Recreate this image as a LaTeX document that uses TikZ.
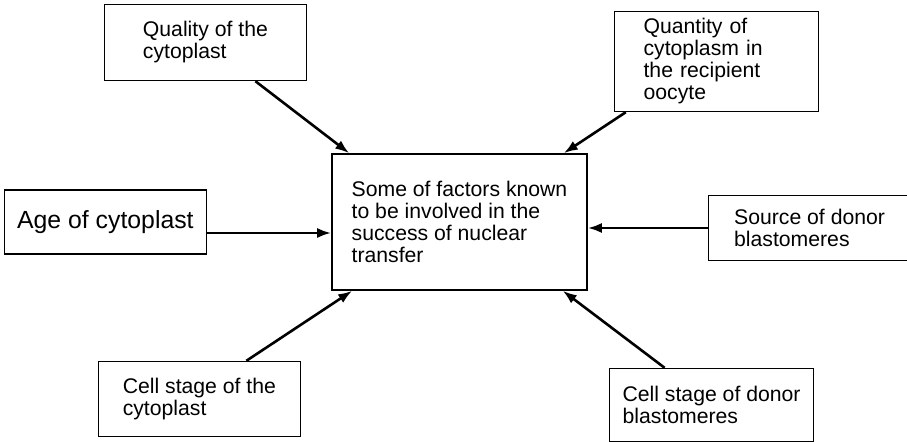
\documentclass[tikz,border=0pt]{standalone}
\usepackage{fontspec}
\setmainfont{Liberation Sans}
\usetikzlibrary{arrows.meta, positioning}
\tikzset{
	factor/.style={rectangle, draw, line width=0.8pt, minimum width=101pt,
		align=left, inner sep=2pt, font=\fontsize{10.6}{11}\selectfont},
	hub/.style={factor, minimum width=127.5pt, minimum height=68pt},
	arr/.style={-{Latex[length=7pt, width=5pt]}, line width=1.3pt},
}

\begin{document}
\begin{tikzpicture}
	\path[use as bounding box] (-229.75pt,111pt) rectangle (223.75pt,-110pt);
	
	\node[hub] (factors) at (0,0) {Some of factors known\\to be involved in the\\success of nuclear\\transfer};
	
	\node[factor, minimum height=38pt, above left=36pt and 12pt of factors] (quality) {Quality of the\\cytoplast};
	\node[factor, minimum width=102pt, minimum height=50pt, text width=73pt, above right=20.5pt and 13pt of factors] (quantity) {Quantity of\\cytoplasm in\\the recipient\\oocyte};
	\node[factor, minimum height=32pt, font=\fontsize{12.4}{13}\selectfont, left=62pt of factors] (age) {Age of cytoplast};
	\node[factor, minimum height=32.5pt, right=60pt of factors, yshift=-3pt] (source) {Source of donor\\blastomeres};
	\node[factor, minimum height=37.5pt, below left=35pt and 15pt of factors] (cellcyto) {Cell stage of the\\cytoplast};
	\node[factor, minimum width=102pt, minimum height=36.5pt, below right=38.5pt and 10.5pt of factors] (celldonor) {Cell stage of donor\\blastomeres};
	
	\draw[arr] ([xshift=25pt]quality.south) -- ([xshift=9pt]factors.north west);
	\draw[arr] ([xshift=6pt]quantity.south west) -- ([xshift=-12pt]factors.north east);
	\draw[arr] ([yshift=-5.5pt]age.east) -- ([yshift=-5.5pt]age.east -| factors.west);
	\draw[arr] (source.west) -- (source.west -| factors.east);
	\draw[arr] ([xshift=23.5pt]cellcyto.north) -- ([xshift=10.5pt]factors.south west);
	\draw[arr] ([xshift=-23.5pt]celldonor.north) -- ([xshift=-12.5pt]factors.south east);
	
\end{tikzpicture}
\end{document}
